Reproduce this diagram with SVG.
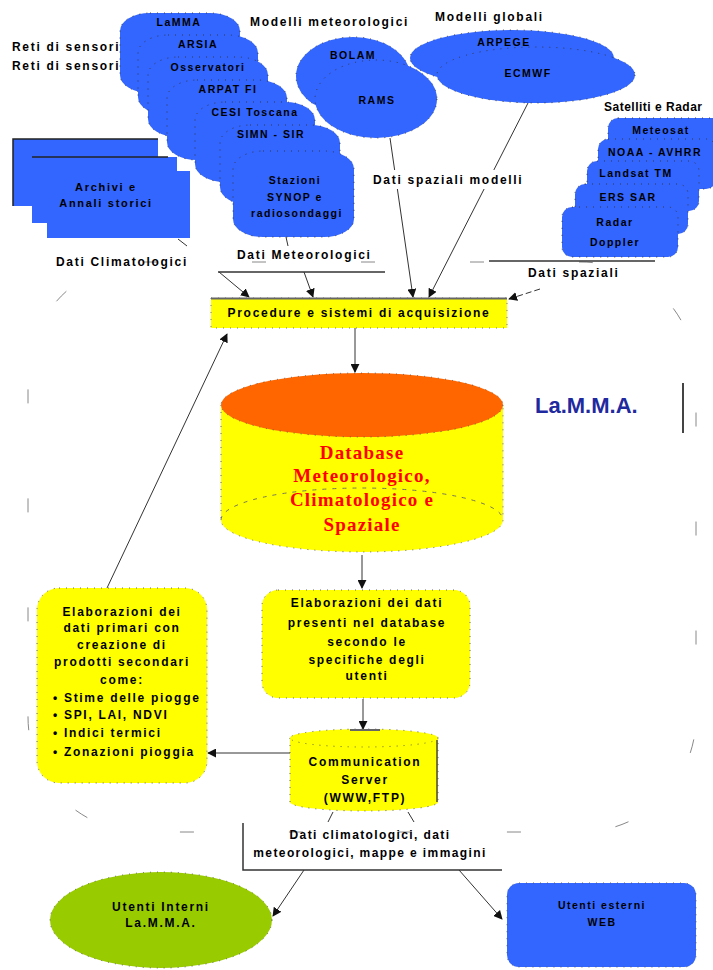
<svg xmlns="http://www.w3.org/2000/svg" width="713" height="970" viewBox="0 0 713 970">
<style>
.t{font-family:"Liberation Sans",Arial,sans-serif;font-weight:bold;font-size:12px;letter-spacing:1.7px;fill:#000}
.s{font-size:10.5px;letter-spacing:1.5px}
.m{text-anchor:middle}
.blue{fill:#3366ff;stroke:#333;stroke-width:0.9;stroke-dasharray:1 6}
.yel{fill:#ffff00;stroke:#555;stroke-width:0.9;stroke-dasharray:1 6}
.c{stroke:#333;stroke-width:1;fill:none}
.ca{stroke:#333;stroke-width:1;fill:none;marker-end:url(#ah)}
.db{font-family:"Liberation Serif","Times New Roman",serif;font-weight:bold;font-size:19px;letter-spacing:1.2px;fill:#ff0000;text-anchor:middle}
</style>
<defs>
<marker id="ah" viewBox="0 0 10 10" refX="9" refY="5" markerWidth="9" markerHeight="9" markerUnits="userSpaceOnUse" orient="auto">
<path d="M0,0 L10,5 L0,10 z" fill="#111"/>
</marker>
</defs>
<rect width="713" height="970" fill="#fff"/>

<!-- big dashed boundary -->
<rect x="28" y="262" width="668" height="570" rx="115" fill="none" stroke="#888" stroke-width="1" stroke-dasharray="14 95"/>

<!-- sensor networks stack -->
<g id="sensori">
<rect class="blue" x="120" y="13" width="120" height="80" rx="30" ry="18"/>
<text class="t s m" x="179" y="26">LaMMA</text>
<rect class="blue" x="138" y="35" width="120" height="80" rx="30" ry="18"/>
<text class="t s m" x="198" y="48">ARSIA</text>
<rect class="blue" x="148" y="57" width="120" height="80" rx="30" ry="18"/>
<text class="t s m" x="208" y="71">Osservatori</text>
<rect class="blue" x="167" y="80" width="120" height="80" rx="30" ry="18"/>
<text class="t s m" x="228" y="93">ARPAT FI</text>
<rect class="blue" x="195" y="102" width="120" height="80" rx="30" ry="18"/>
<text class="t s m" x="255" y="116">CESI Toscana</text>
<rect class="blue" x="220" y="125" width="120" height="80" rx="30" ry="18"/>
<text class="t s m" x="271" y="138">SIMN - SIR</text>
<rect class="blue" x="233" y="151" width="121" height="86" rx="30" ry="18"/>
<text class="t s m" x="295" y="184">Stazioni</text>
<text class="t s m" x="295" y="201">SYNOP e</text>
<text class="t s m" x="297" y="217">radiosondaggi</text>
</g>

<!-- meteorological models -->
<g id="modelli-meteo">
<ellipse class="blue" cx="353" cy="76" rx="57" ry="39"/>
<text class="t s m" x="353" y="59">BOLAM</text>
<ellipse class="blue" cx="376" cy="99" rx="61" ry="39"/>
<text class="t s m" x="377" y="104">RAMS</text>
</g>

<!-- global models -->
<g id="modelli-globali">
<ellipse class="blue" cx="512" cy="58" rx="102" ry="28"/>
<text class="t s m" x="504" y="46">ARPEGE</text>
<ellipse class="blue" cx="536" cy="75" rx="99" ry="28"/>
<text class="t s m" x="528" y="77">ECMWF</text>
</g>

<!-- satellites -->
<g id="satelliti">
<rect class="blue" x="608" y="118" width="120" height="50" rx="10"/>
<text class="t s m" x="661" y="134">Meteosat</text>
<rect class="blue" x="598" y="139" width="118" height="50" rx="10"/>
<text class="t s m" x="655" y="156">NOAA - AVHRR</text>
<rect class="blue" x="587" y="161" width="112" height="50" rx="10"/>
<text class="t s m" x="636" y="177">Landsat TM</text>
<rect class="blue" x="575" y="184" width="113" height="50" rx="10"/>
<text class="t s m" x="628" y="201">ERS SAR</text>
<rect class="blue" x="562" y="207" width="116" height="50" rx="10"/>
<text class="t s m" x="615" y="226">Radar</text>
<text class="t s m" x="615" y="246">Doppler</text>
</g>

<!-- archives -->
<g id="archivi">
<rect x="13" y="139" width="145" height="67" fill="#3366ff"/>
<polyline points="13,206 13,139 158,139" fill="none" stroke="#222" stroke-width="1.5"/>
<rect x="32" y="157" width="145" height="66" fill="#3366ff"/>
<line x1="32" y1="157" x2="168" y2="157" stroke="#222" stroke-width="1.5"/>
<rect x="47" y="171" width="143" height="67" fill="#3366ff"/>
<text class="t m" x="106" y="191" style="font-size:11px">Archivi e</text>
<text class="t m" x="106" y="207" style="font-size:11px">Annali storici</text>
</g>

<!-- top labels -->
<g id="etichette">
<text class="t" x="12" y="51">Reti di sensori</text>
<text class="t" x="12" y="70">Reti di sensori</text>
<text class="t" x="250" y="26">Modelli meteorologici</text>
<text class="t" x="435" y="21">Modelli globali</text>
<text class="t" x="604" y="111" style="letter-spacing:0.5px">Satelliti e Radar</text>
<text class="t" x="56" y="266">Dati Climatologici</text>
<text class="t" x="237" y="259">Dati Meteorologici</text>
<text class="t" x="528" y="277">Dati spaziali</text>
</g>

<!-- connectors -->
<g id="connettori">
<line class="c" x1="178" y1="239" x2="187" y2="246"/>
<line class="c" x1="286" y1="237" x2="288" y2="246"/>
<line x1="218" y1="272" x2="385" y2="272" stroke="#333" stroke-width="1.5"/>
<line class="ca" x1="219" y1="272" x2="249" y2="297"/>
<line class="ca" x1="304" y1="272" x2="313" y2="297"/>
<line class="ca" x1="390" y1="138" x2="413" y2="297"/>
<line class="ca" x1="528" y1="103" x2="429" y2="297"/>
<line x1="489" y1="261" x2="655" y2="261" stroke="#333" stroke-width="1.5"/>
<line class="ca" x1="540" y1="289" x2="509" y2="299" stroke-dasharray="6 3"/>
<line class="ca" x1="355" y1="328" x2="355" y2="372"/>
<line class="ca" x1="107" y1="588" x2="227" y2="334"/>
<line class="ca" x1="362" y1="555" x2="362" y2="588"/>
<line class="ca" x1="363" y1="699" x2="363" y2="729"/>
<line class="ca" x1="290" y1="753" x2="208" y2="753"/>
<line class="c" x1="333" y1="812" x2="328" y2="822"/>
<line class="c" x1="408" y1="812" x2="414" y2="822"/>
<line class="ca" x1="304" y1="870" x2="273" y2="916"/>
<line class="ca" x1="459" y1="870" x2="502" y2="919"/>
<rect x="368" y="170" width="158" height="19" fill="#fff"/>
<text class="t" x="373" y="184">Dati spaziali modelli</text>
</g>

<!-- acquisition bar -->
<g id="procedure">
<rect x="211" y="298" width="296" height="30" fill="#ffff00" stroke="#555" stroke-width="0.8" stroke-dasharray="1 6"/>
<line x1="211" y1="298.5" x2="507" y2="298.5" stroke="#666" stroke-width="2"/>
<text class="t m" x="359" y="317">Procedure e sistemi di acquisizione</text>
</g>

<!-- database -->
<g id="database">
<path d="M221,405 L221,520 A141,32 0 0 0 503,520 L503,405 Z" fill="#ffff00" stroke="#555" stroke-width="0.9" stroke-dasharray="1 6"/>
<path d="M221,520 A141,32 0 0 1 503,520" fill="none" stroke="#666" stroke-width="0.9" stroke-dasharray="4 6"/>
<ellipse cx="362" cy="405" rx="141" ry="32" fill="#ff6600" stroke="#555" stroke-width="0.9" stroke-dasharray="1 6"/>
<text class="db" x="362" y="459">Database</text>
<text class="db" x="362" y="482">Meteorologico,</text>
<text class="db" x="362" y="506">Climatologico e</text>
<text class="db" x="362" y="531">Spaziale</text>
</g>

<text x="535" y="413" style="font-family:'Liberation Sans',Arial,sans-serif;font-weight:bold;font-size:22px;fill:#1f2a9f">La.M.M.A.</text>
<line x1="683" y1="383" x2="683" y2="433" stroke="#444" stroke-width="2"/>

<!-- elaboration for users -->
<g id="elab-utenti">
<rect class="yel" x="262" y="590" width="208" height="108" rx="16"/>
<text class="t m" x="367" y="607">Elaborazioni dei dati</text>
<text class="t m" x="367" y="627">presenti nel database</text>
<text class="t m" x="367" y="646">secondo le</text>
<text class="t m" x="367" y="664">specifiche degli</text>
<text class="t m" x="367" y="680">utenti</text>
</g>

<!-- elaboration of primary data -->
<g id="elab-primari">
<rect class="yel" x="37" y="588" width="170" height="195" rx="22"/>
<text class="t m" x="122" y="616">Elaborazioni dei</text>
<text class="t m" x="122" y="632">dati primari con</text>
<text class="t m" x="122" y="649">creazione di</text>
<text class="t m" x="122" y="666">prodotti secondari</text>
<text class="t m" x="122" y="684">come:</text>
<text class="t" x="53" y="702">• Stime delle piogge</text>
<text class="t" x="53" y="719">• SPI, LAI, NDVI</text>
<text class="t" x="53" y="737">• Indici termici</text>
<text class="t" x="53" y="756">• Zonazioni pioggia</text>
</g>

<!-- server -->
<g id="server">
<path d="M290,738 L290,802 A74,9 0 0 0 438,802 L438,738 Z" fill="#ffff00" stroke="#555" stroke-width="0.9" stroke-dasharray="1 6"/>
<ellipse cx="364" cy="738" rx="74" ry="9" fill="#ffff00" stroke="#555" stroke-width="0.9" stroke-dasharray="1 6"/>
<line x1="437" y1="740" x2="437" y2="802" stroke="#444" stroke-width="1.5"/>
<line x1="350" y1="730" x2="380" y2="730" stroke="#666" stroke-width="2"/>
<text class="t m" x="365" y="766">Communication</text>
<text class="t m" x="365" y="784">Server</text>
<text class="t m" x="365" y="802">(WWW,FTP)</text>
</g>

<!-- outputs label -->
<g id="dati-uscita">
<polyline points="243,823 243,870 502,870" fill="none" stroke="#333" stroke-width="1.5"/>
<text class="t m" x="370" y="839" style="letter-spacing:1.4px">Dati climatologici, dati</text>
<text class="t m" x="370" y="857" style="letter-spacing:1.4px">meteorologici, mappe e immagini</text>
</g>

<g id="utenti-interni">
<ellipse cx="161" cy="920" rx="111" ry="48" fill="#99cc00" stroke="#555" stroke-width="0.9" stroke-dasharray="1 6"/>
<text class="t m" x="161" y="911">Utenti Interni</text>
<text class="t m" x="161" y="927">La.M.M.A.</text>
</g>

<g id="utenti-esterni">
<rect x="507" y="883" width="189" height="84" rx="12" fill="#3366ff" stroke="#555" stroke-width="0.9" stroke-dasharray="1 6"/>
<text class="t s m" x="602" y="909">Utenti esterni</text>
<text class="t s m" x="602" y="926">WEB</text>
</g>
</svg>
